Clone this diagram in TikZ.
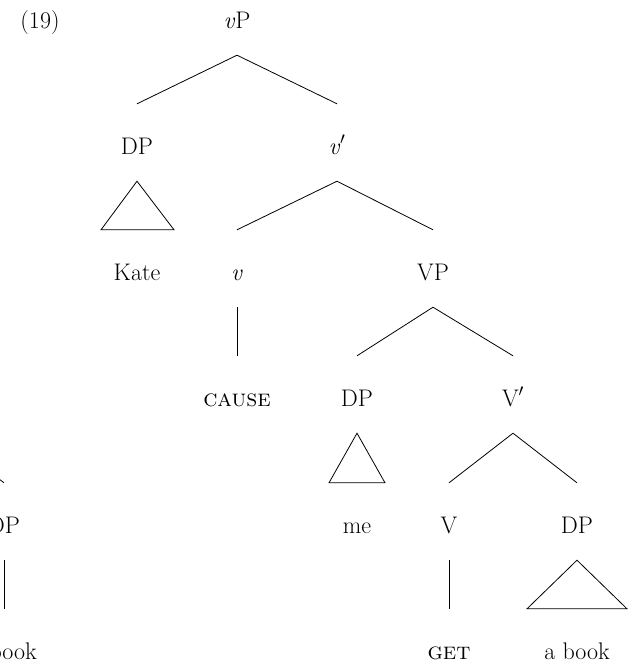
\documentclass[tikz,border=0pt]{standalone}
\usepackage{fontspec}
\usepackage{tikz}

\begin{document}
\begin{tikzpicture}[x=1pt,y=-1pt,
  lbl/.style={anchor=base, inner xsep=0pt, inner ysep=27pt, text height=23pt, text depth=0pt, font=\fontsize{24}{28}\selectfont},
  branch/.style={line width=0.8pt}]
\useasboundingbox (0,0) rectangle (629,665);
\clip (0,0) rectangle (629,665);
\node[lbl] (num) at (40,28) {(19)};
\node[lbl] (vp) at (237,28) {\textit{v}P};
\node[lbl] (dpk) at (137,154) {DP};
\node[lbl] (vbar) at (337,154) {\textit{v}$'$};
\node[lbl] (kate) at (137,280) {Kate};
\node[lbl] (v) at (237,280) {\textit{v}};
\node[lbl] (vpb) at (433,280) {VP};
\node[lbl] (cause) at (237,406) {\textsc{cause}};
\node[lbl] (dpm) at (357,406) {DP};
\node[lbl] (vbarb) at (513,406) {V$'$};
\node[lbl] (me) at (357,533) {me};
\node[lbl] (vb) at (449,533) {V};
\node[lbl] (dpb) at (577,533) {DP};
\node[lbl] (get) at (449,659) {\textsc{get}};
\node[lbl] (abook) at (577,659) {a book};
% cut-off tree on the left
\coordinate (ltop) at (-60,434);
\node[lbl] (dpl) at (4,533) {DP};
\node[lbl] (bookl) at (4,659) {a book};
\path[branch]
(vp.south) edge (dpk.north)
(vp.south) edge (vbar.north)
(vbar.south) edge (v.north)
(vbar.south) edge (vpb.north)
(v.south) edge (cause.north)
(vpb.south) edge (dpm.north)
(vpb.south) edge (vbarb.north)
(vbarb.south) edge (vb.north)
(vbarb.south) edge (dpb.north)
(vb.south) edge (get.north)
(ltop) edge (dpl.north)
(dpl.south) edge (bookl.north);
\draw[branch] (dpk.south) -- ([xshift=-36pt]kate.north) -- ([xshift=37pt]kate.north) -- cycle;
\draw[branch] (dpm.south) -- ([xshift=-28pt]me.north) -- ([xshift=28pt]me.north) -- cycle;
\draw[branch] (dpb.south) -- ([xshift=-50pt]abook.north) -- ([xshift=50pt]abook.north) -- cycle;
\end{tikzpicture}
\end{document}
